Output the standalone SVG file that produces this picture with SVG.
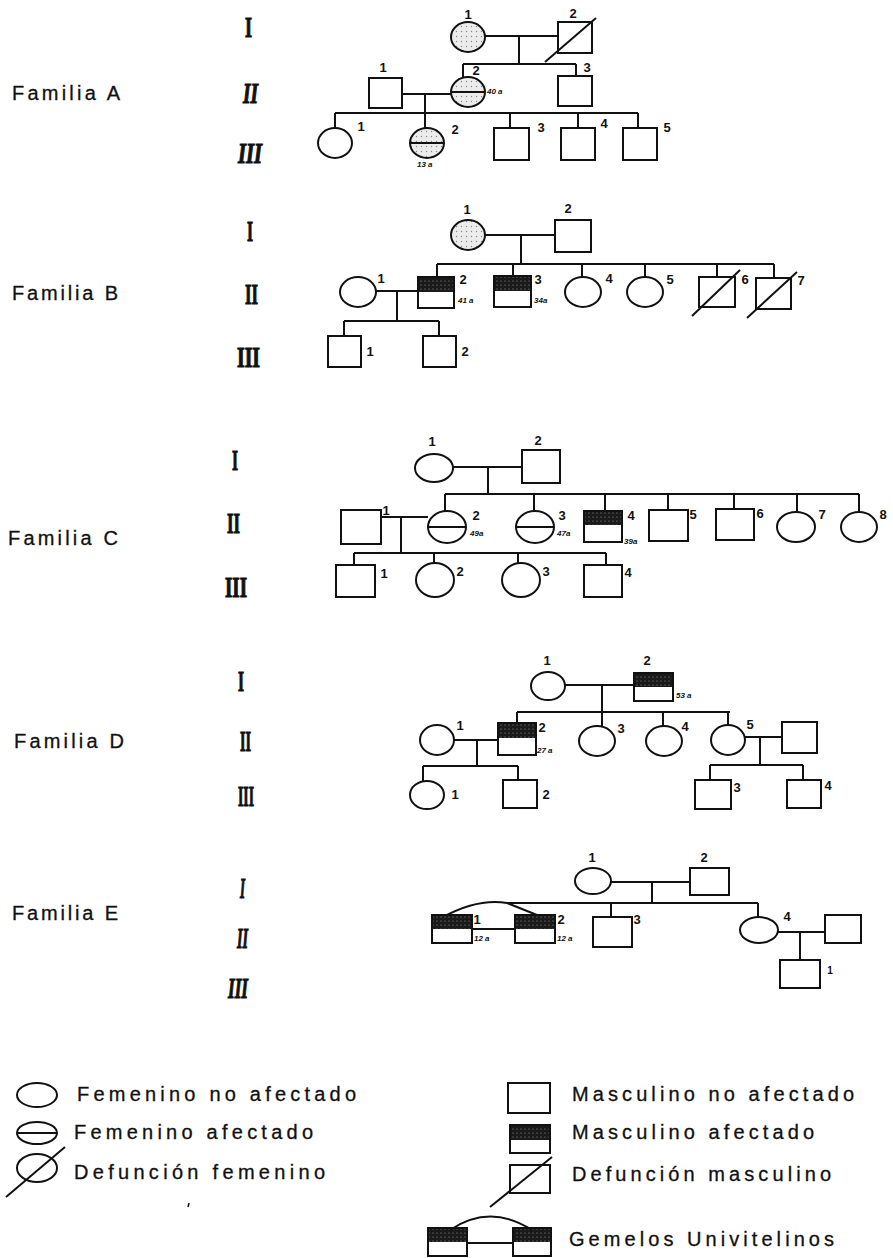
<svg xmlns="http://www.w3.org/2000/svg" width="893" height="1258" viewBox="0 0 893 1258">
<defs>
<pattern id="stip" width="5" height="5" patternUnits="userSpaceOnUse"><rect width="5" height="5" fill="#ececec"/><circle cx="1.5" cy="1.5" r="0.7" fill="#888"/></pattern>
<pattern id="dark" width="4" height="4" patternUnits="userSpaceOnUse"><rect width="4" height="4" fill="#1a1a1a"/><circle cx="1" cy="1" r="0.6" fill="#999"/></pattern>
<style>
.s{fill:#fff;stroke:#111;stroke-width:2}
.o{fill:none;stroke:#111;stroke-width:2}
.st{fill:url(#stip);stroke:#111;stroke-width:2}
.dk{fill:url(#dark)}
.ln{fill:none;stroke:#111;stroke-width:2}
.n{font-family:"Liberation Sans",Arial,sans-serif;font-size:13px;font-weight:bold;fill:#111;text-anchor:middle}
.ag{font-family:"Liberation Sans",Arial,sans-serif;font-size:8px;font-weight:bold;font-style:italic;fill:#111}
.fam{font-family:"Liberation Sans",Arial,sans-serif;font-size:20px;fill:#111;stroke:#111;stroke-width:0.3}
.rn{font-family:"Liberation Serif","Times New Roman",serif;font-size:30px;font-weight:bold;fill:#111;stroke:#111;stroke-width:1.2}
.rni{font-family:"Liberation Serif","Times New Roman",serif;font-size:30px;font-weight:bold;font-style:italic;fill:#111;stroke:#111;stroke-width:1.2}
.lg{font-family:"Liberation Sans",Arial,sans-serif;font-size:20px;fill:#111;stroke:#111;stroke-width:0.3}
</style>
</defs>
<rect width="893" height="1258" fill="#fff"/>

<g id="labels">
<text class="fam" x="12" y="100" textLength="108" lengthAdjust="spacing">Familia A</text>
<text class="fam" x="12" y="300" textLength="106" lengthAdjust="spacing">Familia B</text>
<text class="fam" x="8" y="545" textLength="110" lengthAdjust="spacing">Familia C</text>
<text class="fam" x="14" y="748" textLength="110" lengthAdjust="spacing">Familia D</text>
<text class="fam" x="12" y="920" textLength="106" lengthAdjust="spacing">Familia E</text>
<text class="rn" x="245" y="37" textLength="7" lengthAdjust="spacingAndGlyphs">I</text>
<text class="rni" x="243" y="103" textLength="15" lengthAdjust="spacingAndGlyphs">II</text>
<text class="rni" x="238" y="163" textLength="24" lengthAdjust="spacingAndGlyphs">III</text>
<text class="rn" x="247" y="241" textLength="6" lengthAdjust="spacingAndGlyphs">I</text>
<text class="rn" x="245" y="304" textLength="13" lengthAdjust="spacingAndGlyphs">II</text>
<text class="rn" x="237" y="367" textLength="23" lengthAdjust="spacingAndGlyphs">III</text>
<text class="rn" x="232" y="470" textLength="6" lengthAdjust="spacingAndGlyphs">I</text>
<text class="rn" x="227" y="533" textLength="13" lengthAdjust="spacingAndGlyphs">II</text>
<text class="rn" x="225" y="597" textLength="22" lengthAdjust="spacingAndGlyphs">III</text>
<text class="rn" x="238" y="691" textLength="6" lengthAdjust="spacingAndGlyphs">I</text>
<text class="rn" x="240" y="751" textLength="11" lengthAdjust="spacingAndGlyphs">II</text>
<text class="rn" x="238" y="806" textLength="16" lengthAdjust="spacingAndGlyphs">III</text>
<text class="rni" x="240" y="898" textLength="5" lengthAdjust="spacingAndGlyphs">I</text>
<text class="rni" x="237" y="948" textLength="11" lengthAdjust="spacingAndGlyphs">II</text>
<text class="rni" x="228" y="998" textLength="20" lengthAdjust="spacingAndGlyphs">III</text>
</g>

<g id="connectors" class="ln">
<path d="M485 36H558M519 36V64M463 64H576M463 64V77M576 64V76"/>
<path d="M402 94H451M425 94V113M335 113H638M335 113V128M425 113V128M510 113V128M578 113V128M638 113V128"/>
<path d="M485 235H555M521 235V264M437 264H774M437 264V277M513 264V276M582 264V277M645 264V277M717 264V277M774 264V278"/>
<path d="M376 291H418M397 291V321M344 321H439M344 321V336M439 321V336"/>
<path d="M453 467H522M488 467V494M445 494H859M445 494V511M534 494V511M605 494V511M668 494V510M734 494V509M797 494V512M859 494V512"/>
<path d="M381 517H428M401 517V553M354 553H606M354 553V565M434 553V563M518 553V563M606 553V565"/>
<path d="M565 685H634M602 685V712M517 712H730M517 712V723M602 712V726M663 712V726M728 712V725"/>
<path d="M454 740H498M477 740V766M423 766H518M423 766V781M518 766V780"/>
<path d="M745 737H782M760 737V765M710 765H803M710 765V780M803 765V780"/>
<path d="M611 882H690M652 882V903M507 903H758M611 903V917M758 903V917"/>
<path d="M443 917Q478 898 507 903L537 915M472 929H515"/>
<path d="M778 932H825M800 932V960"/>
</g>

<!-- Familia A -->
<g id="A-I-1"><ellipse class="st" cx="468" cy="37" rx="17" ry="15"/><text class="n" x="468" y="19">1</text></g>
<g id="A-I-2"><rect class="s" x="558" y="22" width="34" height="31"/><path class="ln" d="M545 62L596 18"/><text class="n" x="573" y="18">2</text></g>
<g id="A-II-1"><rect class="s" x="369" y="78" width="33" height="30"/><text class="n" x="383" y="72">1</text></g>
<g id="A-II-2"><ellipse class="st" cx="468" cy="92" rx="17" ry="15"/><path class="ln" d="M451 92H485"/><text class="n" x="476" y="75">2</text><text class="ag" x="487" y="94">40 a</text></g>
<g id="A-II-3"><rect class="s" x="558" y="76" width="34" height="30"/><text class="n" x="587" y="72">3</text></g>
<g id="A-III-1"><ellipse class="s" cx="335" cy="143" rx="17" ry="15"/><text class="n" x="361" y="131">1</text></g>
<g id="A-III-2"><ellipse class="st" cx="427" cy="143" rx="17" ry="15"/><path class="ln" d="M410 143H444"/><text class="n" x="455" y="134">2</text><text class="ag" x="417" y="167">13 a</text></g>
<g id="A-III-3"><rect class="s" x="494" y="128" width="35" height="32"/><text class="n" x="541" y="132">3</text></g>
<g id="A-III-4"><rect class="s" x="561" y="128" width="34" height="32"/><text class="n" x="604" y="128">4</text></g>
<g id="A-III-5"><rect class="s" x="623" y="128" width="34" height="32"/><text class="n" x="667" y="132">5</text></g>

<!-- Familia B -->
<g id="B-I-1"><ellipse class="st" cx="468" cy="235" rx="17" ry="15"/><text class="n" x="467" y="214">1</text></g>
<g id="B-I-2"><rect class="s" x="555" y="220" width="36" height="32"/><text class="n" x="568" y="213">2</text></g>
<g id="B-II-1"><ellipse class="s" cx="358" cy="292" rx="18" ry="15"/><text class="n" x="381" y="283">1</text></g>
<g id="B-II-2"><rect class="s" x="418" y="277" width="36" height="31"/><rect class="dk" x="418" y="277" width="36" height="15"/><rect class="o" x="418" y="277" width="36" height="31"/><text class="n" x="463" y="284">2</text><text class="ag" x="458" y="303">41 a</text></g>
<g id="B-II-3"><rect class="s" x="494" y="276" width="37" height="31"/><rect class="dk" x="494" y="276" width="37" height="15"/><rect class="o" x="494" y="276" width="37" height="31"/><text class="n" x="538" y="284">3</text><text class="ag" x="534" y="303">34a</text></g>
<g id="B-II-4"><ellipse class="s" cx="583" cy="292" rx="18" ry="15"/><text class="n" x="609" y="283">4</text></g>
<g id="B-II-5"><ellipse class="s" cx="645" cy="292" rx="18" ry="15"/><text class="n" x="670" y="284">5</text></g>
<g id="B-II-6"><rect class="s" x="699" y="277" width="36" height="30"/><path class="ln" d="M692 316L740 270"/><text class="n" x="745" y="284">6</text></g>
<g id="B-II-7"><rect class="s" x="756" y="278" width="35" height="31"/><path class="ln" d="M747 318L797 272"/><text class="n" x="801" y="285">7</text></g>
<g id="B-III-1"><rect class="s" x="328" y="336" width="33" height="31"/><text class="n" x="370" y="356">1</text></g>
<g id="B-III-2"><rect class="s" x="423" y="336" width="33" height="31"/><text class="n" x="465" y="356">2</text></g>

<!-- Familia C -->
<g id="C-I-1"><ellipse class="s" cx="434" cy="468" rx="19" ry="14"/><text class="n" x="432" y="446">1</text></g>
<g id="C-I-2"><rect class="s" x="522" y="450" width="38" height="33"/><text class="n" x="538" y="445">2</text></g>
<g id="C-II-1"><rect class="s" x="341" y="510" width="40" height="34"/><text class="n" x="386" y="515">1</text></g>
<g id="C-II-2"><ellipse class="s" cx="447" cy="527" rx="19" ry="16"/><path class="ln" d="M428 527H466"/><text class="n" x="476" y="520">2</text><text class="ag" x="470" y="536">49a</text></g>
<g id="C-II-3"><ellipse class="s" cx="535" cy="527" rx="19" ry="16"/><path class="ln" d="M516 527H554"/><text class="n" x="562" y="520">3</text><text class="ag" x="557" y="536">47a</text></g>
<g id="C-II-4"><rect class="s" x="584" y="511" width="38" height="31"/><rect class="dk" x="584" y="511" width="38" height="14"/><rect class="o" x="584" y="511" width="38" height="31"/><text class="n" x="631" y="520">4</text><text class="ag" x="624" y="544">39a</text></g>
<g id="C-II-5"><rect class="s" x="649" y="510" width="39" height="31"/><text class="n" x="693" y="519">5</text></g>
<g id="C-II-6"><rect class="s" x="716" y="509" width="38" height="31"/><text class="n" x="760" y="518">6</text></g>
<g id="C-II-7"><ellipse class="s" cx="796" cy="527" rx="19" ry="15"/><text class="n" x="822" y="519">7</text></g>
<g id="C-II-8"><ellipse class="s" cx="859" cy="527" rx="18" ry="15"/><text class="n" x="883" y="519">8</text></g>
<g id="C-III-1"><rect class="s" x="336" y="565" width="39" height="32"/><text class="n" x="384" y="578">1</text></g>
<g id="C-III-2"><ellipse class="s" cx="435" cy="580" rx="19" ry="17"/><text class="n" x="460" y="576">2</text></g>
<g id="C-III-3"><ellipse class="s" cx="521" cy="580" rx="19" ry="17"/><text class="n" x="546" y="576">3</text></g>
<g id="C-III-4"><rect class="s" x="584" y="565" width="38" height="32"/><text class="n" x="628" y="577">4</text></g>

<!-- Familia D -->
<g id="D-I-1"><ellipse class="s" cx="548" cy="686" rx="17" ry="14"/><text class="n" x="547" y="665">1</text></g>
<g id="D-I-2"><rect class="s" x="634" y="673" width="39" height="28"/><rect class="dk" x="634" y="673" width="39" height="14"/><rect class="o" x="634" y="673" width="39" height="28"/><text class="n" x="647" y="665">2</text><text class="ag" x="676" y="698">53 a</text></g>
<g id="D-II-1"><ellipse class="s" cx="437" cy="740" rx="17" ry="15"/><text class="n" x="460" y="730">1</text></g>
<g id="D-II-2"><rect class="s" x="498" y="723" width="38" height="32"/><rect class="dk" x="498" y="723" width="38" height="15"/><rect class="o" x="498" y="723" width="38" height="32"/><text class="n" x="542" y="732">2</text><text class="ag" x="537" y="753">27 a</text></g>
<g id="D-II-3"><ellipse class="s" cx="597" cy="741" rx="18" ry="15"/><text class="n" x="621" y="733">3</text></g>
<g id="D-II-4"><ellipse class="s" cx="664" cy="741" rx="18" ry="15"/><text class="n" x="685" y="731">4</text></g>
<g id="D-II-5"><ellipse class="s" cx="728" cy="740" rx="17" ry="15"/><text class="n" x="750" y="729">5</text></g>
<g id="D-II-6"><rect class="s" x="782" y="722" width="35" height="31"/></g>
<g id="D-III-1"><ellipse class="s" cx="427" cy="795" rx="17" ry="14"/><text class="n" x="455" y="799">1</text></g>
<g id="D-III-2"><rect class="s" x="503" y="780" width="34" height="28"/><text class="n" x="546" y="799">2</text></g>
<g id="D-III-3"><rect class="s" x="695" y="780" width="36" height="29"/><text class="n" x="737" y="792">3</text></g>
<g id="D-III-4"><rect class="s" x="787" y="780" width="34" height="28"/><text class="n" x="828" y="790">4</text></g>

<!-- Familia E -->
<g id="E-I-1"><ellipse class="s" cx="593" cy="881" rx="18" ry="13"/><text class="n" x="592" y="862">1</text></g>
<g id="E-I-2"><rect class="s" x="690" y="868" width="39" height="27"/><text class="n" x="704" y="862">2</text></g>
<g id="E-II-1"><rect class="s" x="432" y="915" width="40" height="28"/><rect class="dk" x="432" y="915" width="40" height="14"/><rect class="o" x="432" y="915" width="40" height="28"/><text class="n" x="477" y="924">1</text><text class="ag" x="474" y="941">12 a</text></g>
<g id="E-II-2"><rect class="s" x="515" y="915" width="40" height="28"/><rect class="dk" x="515" y="915" width="40" height="14"/><rect class="o" x="515" y="915" width="40" height="28"/><text class="n" x="561" y="924">2</text><text class="ag" x="557" y="941">12 a</text></g>
<g id="E-II-3"><rect class="s" x="593" y="917" width="39" height="30"/><text class="n" x="637" y="924">3</text></g>
<g id="E-II-4"><ellipse class="s" cx="759" cy="930" rx="19" ry="13"/><text class="n" x="787" y="921">4</text></g>
<g id="E-II-5"><rect class="s" x="825" y="915" width="36" height="28"/></g>
<g id="E-III-1"><rect class="s" x="780" y="960" width="40" height="28"/><text class="n" x="830" y="974" style="font-size:10px">1</text></g>

<!-- Legend -->
<g id="legend-fem"><ellipse class="s" cx="37" cy="1095" rx="20" ry="12"/><text class="lg" x="77" y="1101" textLength="279" lengthAdjust="spacing">Femenino no afectado</text></g>
<g id="legend-fem-af"><ellipse class="s" cx="37" cy="1133" rx="20" ry="11"/><path class="ln" d="M17 1133H57"/><text class="lg" x="74" y="1139" textLength="239" lengthAdjust="spacing">Femenino afectado</text></g>
<g id="legend-fem-def"><ellipse class="s" cx="37" cy="1168" rx="20" ry="14"/><path class="ln" d="M6 1197L65 1147"/><text class="lg" x="74" y="1179" textLength="251" lengthAdjust="spacing">Defunción femenino</text></g>
<path class="ln" d="M189 1203l-1 4" style="stroke-width:1.5"/>
<g id="legend-masc"><rect class="s" x="508" y="1083" width="42" height="30"/><text class="lg" x="572" y="1101" textLength="282" lengthAdjust="spacing">Masculino no afectado</text></g>
<g id="legend-masc-af"><rect class="s" x="510" y="1125" width="40" height="28"/><rect class="dk" x="510" y="1125" width="40" height="15"/><rect class="o" x="510" y="1125" width="40" height="28"/><text class="lg" x="572" y="1139" textLength="242" lengthAdjust="spacing">Masculino afectado</text></g>
<g id="legend-masc-def"><rect class="s" x="510" y="1165" width="40" height="28"/><path class="ln" d="M490 1207L552 1157"/><text class="lg" x="572" y="1181" textLength="259" lengthAdjust="spacing">Defunción masculino</text></g>
<g id="legend-twins"><rect class="s" x="428" y="1228" width="39" height="28"/><rect class="dk" x="428" y="1228" width="39" height="14"/><rect class="o" x="428" y="1228" width="39" height="28"/><rect class="s" x="513" y="1228" width="38" height="28"/><rect class="dk" x="513" y="1228" width="38" height="14"/><rect class="o" x="513" y="1228" width="38" height="28"/><path class="ln" d="M450 1230Q490 1203 532 1230M467 1243H513"/><text class="lg" x="569" y="1246" textLength="265" lengthAdjust="spacing">Gemelos Univitelinos</text></g>
</svg>
